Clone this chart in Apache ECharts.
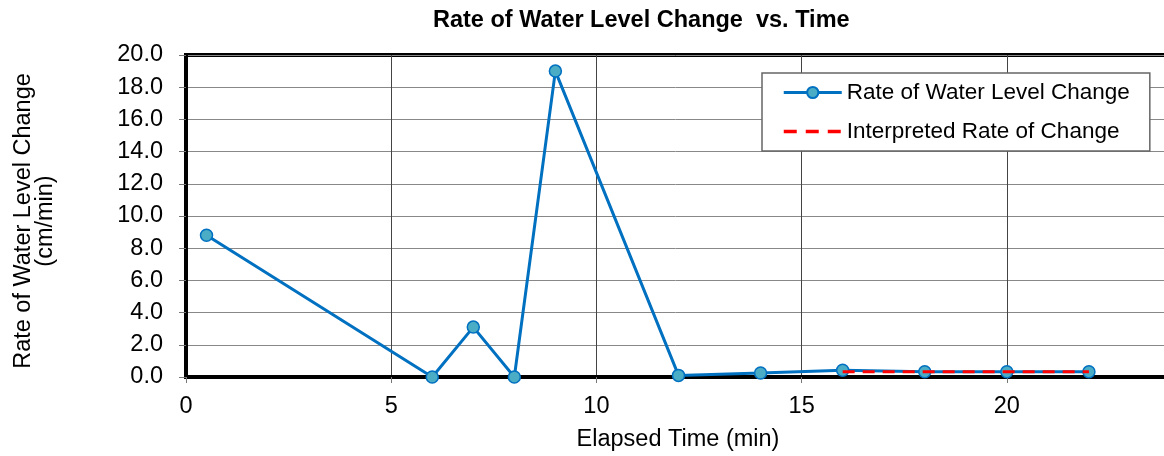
<!DOCTYPE html>
<html>
<head>
<meta charset="utf-8">
<script src="https://cdn.jsdelivr.net/npm/echarts@6/dist/echarts.min.js"></script>
<style>html,body{margin:0;padding:0;background:#fff;}#c{width:1164px;height:456px;}</style>
</head>
<body>
<div id="c"></div>
<script>
const timeMin = [0.5, 6, 7, 8, 9, 12, 14, 16, 18, 20, 22];
const rateValues = [8.8, 0.0, 3.1, 0.0, 19.0, 0.1, 0.25, 0.42, 0.33, 0.33, 0.33];
const interpTime = [16, 22];
const interpValues = [0.33, 0.33];
const xTicks = [0, 5, 10, 15, 20];
const yTicks = [0, 2, 4, 6, 8, 10, 12, 14, 16, 18, 20];

const FONT = 'Liberation Sans, Arial, sans-serif';
const FS = 23.5;
const chart = echarts.init(document.getElementById('c'));
chart.setOption({
  animation: false,
  backgroundColor: '#fff',
  textStyle: { fontFamily: FONT },
  title: {
    text: 'Rate of Water Level Change  vs. Time',
    left: 428, top: 4,
    textStyle: { fontSize: 23.5, fontWeight: 'bold', color: '#000', fontFamily: FONT }
  },
  grid: {
    left: 186, top: 55, bottom: 79, width: 985,
    outerBoundsMode: 'none', containLabel: false,
    show: true, borderColor: '#000', borderWidth: 4, backgroundColor: 'transparent'
  },
  legend: {
    orient: 'vertical',
    left: 762, top: 73,
    backgroundColor: '#fff',
    borderColor: '#666', borderWidth: 1.5,
    padding: [8, 20, 8, 20],
    itemWidth: 58, itemHeight: 14, itemGap: 16,
    textStyle: { fontSize: 22.5, color: '#000', fontFamily: FONT },
    data: [
      { name: 'Rate of Water Level Change', lineStyle: { width: 3 } },
      { name: 'Interpreted Rate of Change', itemStyle: { opacity: 0 }, lineStyle: { width: 3.5, type: [13, 9], color: '#FF0000' } }
    ]
  },
  xAxis: {
    type: 'value', min: 0, max: 24, interval: 5,
    axisLine: { show: true, lineStyle: { color: '#000', width: 4 } },
    axisTick: { show: true, length: 6, lineStyle: { color: '#777', width: 1 } },
    axisLabel: { fontSize: FS, color: '#000', margin: 18, fontFamily: FONT,
      formatter: v => xTicks.includes(v) ? String(v) : '' },
    splitLine: { show: true, lineStyle: { color: '#444', width: 1 } }
  },
  yAxis: {
    type: 'value', min: 0, max: 20, interval: 2,
    axisLine: { show: true, lineStyle: { color: '#000', width: 4 } },
    axisTick: { show: true, length: 7, lineStyle: { color: '#777', width: 1 } },
    axisLabel: { fontSize: FS, color: '#000', margin: 23, fontFamily: FONT,
      formatter: v => yTicks.includes(v) ? v.toFixed(1) : '' },
    splitLine: { show: true, lineStyle: { color: '#888', width: 1 } }
  },
  graphic: [
    { type: 'text', rotation: Math.PI / 2, x: 24, y: 221,
      style: { text: 'Rate of Water Level Change', fontSize: FS, fill: '#000', fontFamily: FONT,
        textAlign: 'center', textVerticalAlign: 'middle' } },
    { type: 'text', rotation: Math.PI / 2, x: 46, y: 221,
      style: { text: '(cm/min)', fontSize: FS, fill: '#000', fontFamily: FONT,
        textAlign: 'center', textVerticalAlign: 'middle' } },
    { type: 'text', x: 678, y: 440,
      style: { text: 'Elapsed Time (min)', fontSize: FS, fill: '#000', fontFamily: FONT,
        textAlign: 'center', textVerticalAlign: 'middle' } }
  ],
  series: [
    {
      name: 'Rate of Water Level Change', type: 'line',
      data: timeMin.map((t, i) => [t, rateValues[i]]),
      symbol: 'circle', symbolSize: 12, showSymbol: true,
      lineStyle: { color: '#0070C0', width: 3 },
      itemStyle: { color: '#4BACC6', borderColor: '#0070C0', borderWidth: 1.5 },
      z: 3
    },
    {
      name: 'Interpreted Rate of Change', type: 'line',
      data: interpTime.map((t, i) => [t, interpValues[i]]),
      symbol: 'none',
      lineStyle: { color: '#FF0000', width: 3, type: [12, 8] },
      itemStyle: { color: '#FF0000' },
      z: 4
    }
  ]
});
</script>
</body>
</html>
